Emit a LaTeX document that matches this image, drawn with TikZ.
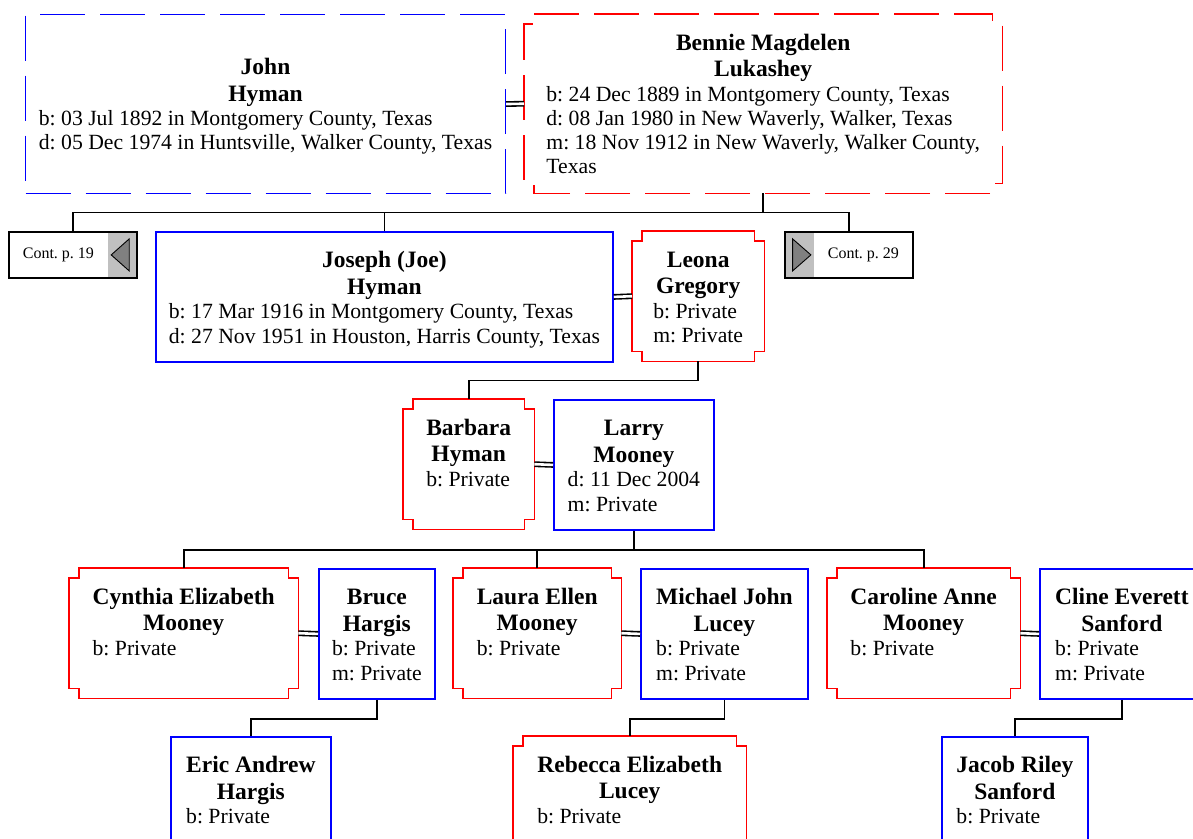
\documentclass[tikz,border=0pt]{standalone}
\usepackage{fontspec}
\setmainfont{Liberation Serif}
\usetikzlibrary{calc}
\definecolor{panelgray}{RGB}{192,192,192}
\definecolor{tipgray}{RGB}{128,128,128}
\newcommand\pcard[1]{\begin{tabular}[t]{@{}l@{}}#1\end{tabular}}
\newcommand\pname[1]{\multicolumn{1}{@{}c@{}}{\fontsize{23.5}{26.5}\selectfont\bfseries #1}}
\frenchspacing
\begin{document}
\begin{tikzpicture}[x=1pt, y=-1pt,
	font=\fontsize{21.7}{24.3}\selectfont,
	person/.style={inner sep=0pt, anchor=north west, text height=36pt, text depth=94pt},
	male/.style={person, draw=blue, line width=1.8pt},
	female/.style={person},
	fem/.style={draw=red, line width=1.8pt},
	femdash/.style={draw=red, line width=1.1pt, dash pattern=on 45pt off 15pt},
	link/.style={line width=1.8pt},
	spouse/.style={double, double distance=2.6pt, line width=1.6pt},
	contbox/.style={draw, line width=1.8pt, inner sep=0pt, anchor=north west, minimum width=128pt, minimum height=46pt, font=\fontsize{16}{19}\selectfont},
	tiptri/.style={fill=tipgray, draw=black, line width=0.9pt}]
		\useasboundingbox (0,0) rectangle (1193,838);
		\clip (0,0) rectangle (1193,838);
		% generation 1
		\node[male, line width=1.1pt, dash pattern=on 45pt off 15pt, text height=60pt, text depth=119pt, minimum width=480pt] (john) at (25,14)
			{\pcard{\pname{John}\\[2.2pt] \pname{Hyman}\\ b: 03 Jul 1892 in Montgomery County, Texas\\ d: 05 Dec 1974 in Huntsville, Walker County, Texas}};
		\node[female, text depth=143pt, minimum width=478pt] (bennie) at (524,14)
			{\pcard{\pname{Bennie Magdelen}\\[2.2pt] \pname{Lukashey}\\ b: 24 Dec 1889 in Montgomery County, Texas\\ d: 08 Jan 1980 in New Waverly, Walker, Texas\\ m: 18 Nov 1912 in New Waverly, Walker County,\\ Texas}};
		% generation 2
		\node[contbox, path picture={
			\fill[panelgray] ([xshift=-29pt]path picture bounding box.north east) rectangle (path picture bounding box.south east);
			\draw[tiptri] ([xshift=-25.7pt]path picture bounding box.east) -- ([xshift=-7.7pt, yshift=16pt]path picture bounding box.east) -- ([xshift=-7.7pt, yshift=-16pt]path picture bounding box.east) -- cycle;
			}] (cont19) at (8,231) {\makebox[99pt]{Cont.\ p.\ 19}\rule{29pt}{0pt}};
		\node[contbox, path picture={
			\fill[panelgray] (path picture bounding box.north west) rectangle ([xshift=29pt]path picture bounding box.south west);
			\draw[tiptri] ([xshift=26pt]path picture bounding box.west) -- ([xshift=7.7pt, yshift=16pt]path picture bounding box.west) -- ([xshift=7.7pt, yshift=-16pt]path picture bounding box.west) -- cycle;
			}] (cont29) at (784,231) {\rule{29pt}{0pt}\makebox[99pt]{Cont.\ p.\ 29}};
		\node[male, minimum width=457pt] (joseph) at (155,231)
			{\pcard{\pname{Joseph (Joe)}\\[2.2pt] \pname{Hyman}\\ b: 17 Mar 1916 in Montgomery County, Texas\\ d: 27 Nov 1951 in Houston, Harris County, Texas}};
		\node[female, minimum width=132pt] (leona) at (632,231)
			{\pcard{\pname{Leona}\\[2.2pt] \pname{Gregory}\\ b: Private\\ m: Private}};
		% generation 3
		\node[female, minimum width=131pt] (barbara) at (403,399)
			{\pcard{\pname{Barbara}\\[2.2pt] \pname{Hyman}\\ b: Private}};
		\node[male, minimum width=160pt] (larry) at (553,399)
			{\pcard{\pname{Larry}\\[2.2pt] \pname{Mooney}\\ d: 11 Dec 2004\\ m: Private}};
		% generation 4
		\node[female, minimum width=229pt] (cynthia) at (69,568)
			{\pcard{\pname{Cynthia Elizabeth}\\[2.2pt] \pname{Mooney}\\ b: Private}};
		\node[male, minimum width=116pt] (bruce) at (318,568)
			{\pcard{\pname{Bruce}\\[2.2pt] \pname{Hargis}\\ b: Private\\ m: Private}};
		\node[female, minimum width=168pt] (laura) at (453,568)
			{\pcard{\pname{Laura Ellen}\\[2.2pt] \pname{Mooney}\\ b: Private}};
		\node[male, minimum width=167pt] (michael) at (640,568)
			{\pcard{\pname{Michael John}\\[2.2pt] \pname{Lucey}\\ b: Private\\ m: Private}};
		\node[female, minimum width=193pt] (caroline) at (827,568)
			{\pcard{\pname{Caroline Anne}\\[2.2pt] \pname{Mooney}\\ b: Private}};
		\node[male, minimum width=164pt] (cline) at (1039,568)
			{\pcard{\pname{Cline Everett}\\[2.2pt] \pname{Sanford}\\ b: Private\\ m: Private}};
		% generation 5
		\node[male, minimum width=160pt] (eric) at (170,736)
			{\pcard{\pname{Eric Andrew}\\[2.2pt] \pname{Hargis}\\ b: Private}};
		\node[female, minimum width=233pt] (rebecca) at (513,736)
			{\pcard{\pname{Rebecca Elizabeth}\\[2.2pt] \pname{Lucey}\\ b: Private}};
		\node[male, minimum width=146pt] (jacob) at (941,736)
			{\pcard{\pname{Jacob Riley}\\[2.2pt] \pname{Sanford}\\ b: Private}};
		% notched outlines
		\foreach \f/\st in {bennie/femdash, leona/fem, barbara/fem, cynthia/fem, laura/fem, caroline/fem, rebecca/fem}{
		\draw[\st] ($(\f.north west)+(10,0)$) -- ($(\f.north east)+(-10,0)$) -- ++(0,10) -- ++(10,0)
			-- ($(\f.south east)+(0,-10)$) -- ++(-10,0) -- ++(0,10)
			-- ($(\f.south west)+(10,0)$) -- ++(0,-10) -- ++(-10,0)
			-- ($(\f.north west)+(0,10)$) -- ++(10,0) -- cycle;
		}
		% marriages
		\foreach \a/\b in {john/bennie, joseph/leona, barbara/larry, cynthia/bruce, laura/michael, caroline/cline}
		\draw[spouse] (\a.east) -- (\b.west);
		% descent
		\draw[link] (bennie.south) -- ++(0,19) coordinate (bus1);
		\draw[link] (cont19.north) |- (bus1) -| (cont29.north);
		\draw[link] (joseph.north) -- (joseph.north |- bus1);
		\draw[link] (leona.south) -- ++(0,19) -| (barbara.north);
		\draw[link] (larry.south) -- ++(0,19) coordinate (bus3);
		\draw[link] (cynthia.north) |- (bus3) -| (caroline.north);
		\draw[link] (laura.north) -- (laura.north |- bus3);
		\draw[link] (bruce.south) -- ++(0,19) -| (eric.north);
		\draw[link] (michael.south) -- ++(0,19) -| (rebecca.north);
		\draw[link] (cline.south) -- ++(0,19) -| (jacob.north);
\end{tikzpicture}
\end{document}
